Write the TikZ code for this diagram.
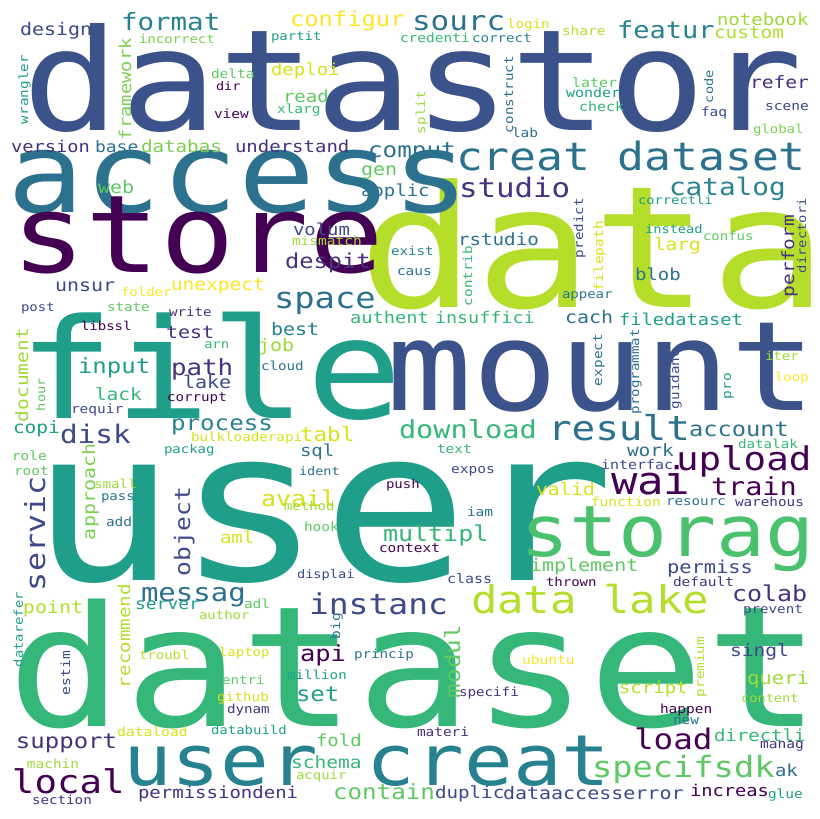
\documentclass[tikz,border=0pt]{standalone}
\usepackage{xcolor}
\usepackage{fontspec}
\setmainfont{DejaVu Sans Mono}[FakeStretch=1.15]
\usepackage{tikz}
\definecolor{wcDP}{HTML}{440154}
\definecolor{wcP}{HTML}{46327E}
\definecolor{wcI}{HTML}{3E4989}
\definecolor{wcSB}{HTML}{3B528B}
\definecolor{wcB}{HTML}{2C728E}
\definecolor{wcT}{HTML}{26828E}
\definecolor{wcTG}{HTML}{1F9E89}
\definecolor{wcG}{HTML}{35B779}
\definecolor{wcGG}{HTML}{4AC16D}
\definecolor{wcLG}{HTML}{5EC962}
\definecolor{wcLGb}{HTML}{7AD151}
\definecolor{wcLGa}{HTML}{A0DA39}
\definecolor{wcYG}{HTML}{B5DE2B}
\definecolor{wcYY}{HTML}{D8E219}
\definecolor{wcY}{HTML}{FDE725}
\newcommand{\wsz}[1]{\fontsize{\fpeval{#1/1.15}}{\fpeval{#1/1.15}}\selectfont}
\tikzset{
  word/.style={inner sep=0pt, outer sep=0pt, anchor=base west},
  vword/.style={word, rotate=90}
}
\begin{document}
\begin{tikzpicture}[x=1pt, y=-1pt]
    \fill[white] (0,0) rectangle (819,819);
    \useasboundingbox (0,0) rectangle (819,819);
    % large words
    \node[word, font=\wsz{162}, text=wcSB] (datastor) at (23,130) {datastor};
    \node[word, font=\wsz{195}, text=wcYG] (data) at (358,307) {data};
    \node[word, font=\wsz{128}, text=wcB] (access) at (7,212) {access};
    \node[word, font=\wsz{124}, text=wcDP] (store) at (11,272) {store};
    \node[word, font=\wsz{160}, text=wcTG] (file) at (18,418) {file};
    \node[word, font=\wsz{143}, text=wcSB] (mount) at (386,410) {mount};
    \node[word, font=\wsz{243}, text=wcTG] (user) at (30,580) {user};
    \node[word, font=\wsz{193}, text=wcG] (dataset) at (8,726) {dataset};
    \node[word, font=\wsz{81.5}, text=wcGG] (storag) at (520,556) {storag};
    \node[word, font=\wsz{81}, text=wcT] (usercreat) at (123,785) {user creat};
    \node[word, font=\wsz{44.7}, text=wcB] (creatdataset) at (456,170) {creat dataset};
    \node[word, font=\wsz{44}, text=wcYG] (datalake) at (471,613) {data lake};
    % medium words
    \node[word, font=\wsz{33}, text=wcI] (instanc) at (309,614) {instanc};
    \node[word, font=\wsz{33.7}, text=wcLG] (specifsdk) at (592,777) {specifsdk};
    \node[word, font=\wsz{39.3}, text=wcB] (result) at (548,440) {result};
    \node[word, font=\wsz{37.5}, text=wcDP] (upload) at (676,470) {upload};
    \node[word, font=\wsz{37.4}, text=wcDP] (local) at (12,793) {local};
    \node[word, font=\wsz{32.6}, text=wcDP] (load) at (634,749) {load};
    \node[word, font=\wsz{44}, text=wcDP] (wai) at (611,494) {wai};
    \node[word, font=\wsz{33.8}, text=wcB] (space) at (274,308) {space};
    \node[word, font=\wsz{31}, text=wcB] (sourc) at (412,30) {sourc};
    \node[word, font=\wsz{30.8}, text=wcP] (studio) at (459,197) {studio};
    \node[word, font=\wsz{29.4}, text=wcI] (disk) at (60,443) {disk};
    \node[word, font=\wsz{28.5}, text=wcDP] (train) at (711,495) {train};
    \node[word, font=\wsz{28.6}, text=wcG] (download) at (399,438) {download};
    \node[word, font=\wsz{27.7}, text=wcT] (catalog) at (669,195) {catalog};
    \node[word, font=\wsz{27.5}, text=wcT] (format) at (121,30) {format};
    \node[word, font=\wsz{27}, text=wcT] (featur) at (617,38) {featur};
    \node[word, font=\wsz{29}, text=wcB] (messag) at (141,601) {messag};
    \node[word, font=\wsz{25.8}, text=wcP] (path) at (171,375) {path};
    \node[word, font=\wsz{25.5}, text=wcDP] (api) at (300,661) {api};
    \node[word, font=\wsz{25}, text=wcG] (multipl) at (383,541) {multipl};
    \node[word, font=\wsz{25}, text=wcYY] (avail) at (261,506) {avail};
    \node[word, font=\wsz{25}, text=wcP] (colab) at (732,601) {colab};
    \node[word, font=\wsz{24}, text=wcTG] (input) at (78,373) {input};
    \node[word, font=\wsz{24.3}, text=wcB] (comput) at (368,157) {comput};
    \node[word, font=\wsz{24.2}, text=wcT] (process) at (171,430) {process};
    \node[word, font=\wsz{24.2}, text=wcLG] (contain) at (333,799) {contain};
    \node[word, font=\wsz{24}, text=wcTG] (set) at (296,701) {set};
    \node[word, font=\wsz{24}, text=wcP] (support) at (16,748) {support};
    \node[word, font=\wsz{23.7}, text=wcB] (account) at (689,436) {account};
    \node[word, font=\wsz{23.8}, text=wcY] (configur) at (290,27) {configur};
    \node[word, font=\wsz{23.7}, text=wcP] (despit) at (285,268) {despit};
    \node[word, font=\wsz{22.6}, text=wcYY] (tabl) at (300,441) {tabl};
    % words around 20
    \node[word, font=\wsz{20}, text=wcI] (design) at (20,35) {design};
    \node[word, font=\wsz{20}, text=wcI] (unsur) at (55,291) {unsur};
    \node[word, font=\wsz{20}, text=wcP] (test) at (166,338) {test};
    \node[word, font=\wsz{20}, text=wcI] (lake) at (183,388) {lake};
    \node[word, font=\wsz{20}, text=wcYG] (point) at (23,613) {point};
    \node[word, font=\wsz{20}, text=wcLG] (implement) at (530,571) {implement};
    \node[word, font=\wsz{20.4}, text=wcI] (permiss) at (667,573) {permiss};
    \node[word, font=\wsz{20.6}, text=wcLGa] (queri) at (747,684) {queri};
    \node[word, font=\wsz{20}, text=wcI] (dataaccesserror) at (503,799) {dataaccesserror};
    \node[word, font=\wsz{20}, text=wcT] (best) at (271,335) {best};
    \node[word, font=\wsz{20}, text=wcLGa] (job) at (258,351) {job};
    \node[word, font=\wsz{20}, text=wcB] (cach) at (565,323) {cach};
    \node[word, font=\wsz{20}, text=wcLG] (gen) at (361,175) {gen};
    \node[word, font=\wsz{19.6}, text=wcP] (refer) at (750,88) {refer};
    \node[word, font=\wsz{19.6}, text=wcYY] (valid) at (536,495) {valid};
    \node[word, font=\wsz{19.6}, text=wcG] (schema) at (291,768) {schema};
    \node[word, font=\wsz{19.6}, text=wcI] (singl) at (730,656) {singl};
    \node[word, font=\wsz{19}, text=wcB] (applic) at (361,196) {applic};
    \node[word, font=\wsz{19.4}, text=wcYG] (custom) at (714,38) {custom};
    \node[word, font=\wsz{19}, text=wcLGa] (notebook) at (717,25) {notebook};
    \node[word, font=\wsz{19.5}, text=wcYY] (larg) at (654,250) {larg};
    \node[word, font=\wsz{19.5}, text=wcY] (unexpect) at (171,290) {unexpect};
    \node[word, font=\wsz{19.5}, text=wcG] (lack) at (95,400) {lack};
    \node[word, font=\wsz{19.5}, text=wcTG] (copi) at (13,433) {copi};
    \node[word, font=\wsz{19.5}, text=wcB] (work) at (627,456) {work};
    \node[word, font=\wsz{18.7}, text=wcP] (version) at (11,152) {version};
    \node[word, font=\wsz{18}, text=wcB] (base) at (95,152) {base};
    \node[word, font=\wsz{19.2}, text=wcLGb] (databas) at (141,152) {databas};
    \node[word, font=\wsz{20}, text=wcLG] (web) at (98,193) {web};
    \node[word, font=\wsz{19}, text=wcP] (understand) at (235,152) {understand};
    \node[word, font=\wsz{19}, text=wcYY] (deploi) at (271,75) {deploi};
    \node[word, font=\wsz{19}, text=wcLG] (read) at (283,102) {read};
    \node[word, font=\wsz{18.9}, text=wcI] (volum) at (293,235) {volum};
    \node[word, font=\wsz{19}, text=wcB] (blob) at (635,280) {blob};
    \node[word, font=\wsz{19.2}, text=wcB] (rstudio) at (458,245) {rstudio};
    \node[word, font=\wsz{18}, text=wcTG] (server) at (135,609) {server};
    \node[word, font=\wsz{19}, text=wcB] (sql) at (300,456) {sql};
    \node[word, font=\wsz{19}, text=wcYY] (aml) at (220,543) {aml};
    \node[word, font=\wsz{19}, text=wcLG] (fold) at (316,746) {fold};
    \node[word, font=\wsz{19}, text=wcG] (directli) at (714,741) {directli};
    \node[word, font=\wsz{19}, text=wcYG] (script) at (619,693) {script};
    \node[word, font=\wsz{19.2}, text=wcI] (duplic) at (435,798) {duplic};
    \node[word, font=\wsz{19}, text=wcP] (permissiondeni) at (138,798) {permissiondeni};
    \node[word, font=\wsz{18.7}, text=wcDP] (increas) at (690,796) {increas};
    \node[word, font=\wsz{19}, text=wcB] (ak) at (775,776) {ak};
    \node[word, font=\wsz{18.7}, text=wcG] (authent) at (350,323) {authent};
    \node[word, font=\wsz{18.4}, text=wcG] (insuffici) at (435,323) {insuffici};
    \node[word, font=\wsz{18.7}, text=wcTG] (filedataset) at (619,325) {filedataset};
    % small words
    \node[word, font=\wsz{14}, text=wcLGb] (incorrect) at (139,43) {incorrect};
    \node[word, font=\wsz{14}, text=wcTG] (partit) at (271,40) {partit};
    \node[word, font=\wsz{14.5}, text=wcG] (credenti) at (400,42) {credenti};
    \node[word, font=\wsz{14.2}, text=wcT] (correct) at (472,42) {correct};
    \node[word, font=\wsz{14.2}, text=wcYY] (login) at (507,28) {login};
    \node[word, font=\wsz{14.5}, text=wcYG] (share) at (562,35) {share};
    \node[word, font=\wsz{14.5}, text=wcLG] (delta) at (211,78) {delta};
    \node[word, font=\wsz{13.5}, text=wcDP] (dir) at (216,90) {dir};
    \node[word, font=\wsz{14.5}, text=wcDP] (view) at (214,118) {view};
    \node[word, font=\wsz{14.5}, text=wcG] (xlarg) at (277,113) {xlarg};
    \node[word, font=\wsz{14.5}, text=wcLGa] (mismatch) at (292,245) {mismatch};
    \node[word, font=\wsz{14.2}, text=wcT] (exist) at (391,255) {exist};
    \node[word, font=\wsz{14.5}, text=wcB] (caus) at (397,275) {caus};
    \node[word, font=\wsz{14.5}, text=wcB] (lab) at (512,137) {lab};
    \node[word, font=\wsz{15}, text=wcLG] (later) at (572,87) {later};
    \node[word, font=\wsz{15}, text=wcTG] (wonder) at (566,97) {wonder};
    \node[word, font=\wsz{15}, text=wcG] (check) at (579,111) {check};
    \node[word, font=\wsz{14.5}, text=wcI] (faq) at (701,116) {faq};
    \node[word, font=\wsz{14.6}, text=wcI] (scene) at (765,110) {scene};
    \node[word, font=\wsz{14}, text=wcLGb] (global) at (753,133) {global};
    \node[word, font=\wsz{13.8}, text=wcTG] (correctli) at (638,204) {correctli};
    \node[word, font=\wsz{13.7}, text=wcTG] (instead) at (645,233) {instead};
    \node[word, font=\wsz{14}, text=wcLG] (confus) at (703,240) {confus};
    \node[word, font=\wsz{14}, text=wcY] (folder) at (121,296) {folder};
    \node[word, font=\wsz{14}, text=wcI] (post) at (21,311) {post};
    \node[word, font=\wsz{14.2}, text=wcLG] (state) at (107,311) {state};
    \node[word, font=\wsz{14.2}, text=wcP] (write) at (169,316) {write};
    \node[word, font=\wsz{14}, text=wcDP] (libssl) at (81,330) {libssl};
    \node[word, font=\wsz{14.5}, text=wcI] (requir) at (71,413) {requir};
    \node[word, font=\wsz{14.2}, text=wcDP] (corrupt) at (167,401) {corrupt};
    \node[word, font=\wsz{14.2}, text=wcYY] (bulkloaderapi) at (191,441) {bulkloaderapi};
    \node[word, font=\wsz{14}, text=wcTG] (packag) at (164,453) {packag};
    \node[word, font=\wsz{14.5}, text=wcLG] (role) at (12,460) {role};
    \node[word, font=\wsz{14.5}, text=wcLG] (root) at (14,475) {root};
    \node[word, font=\wsz{14.2}, text=wcLGa] (small) at (94,488) {small};
    \node[word, font=\wsz{14}, text=wcB] (pass) at (101,500) {pass};
    \node[word, font=\wsz{14.5}, text=wcB] (add) at (106,526) {add};
    \node[word, font=\wsz{14}, text=wcG] (arn) at (204,348) {arn};
    \node[word, font=\wsz{14.2}, text=wcB] (cloud) at (261,370) {cloud};
    \node[word, font=\wsz{13.5}, text=wcB] (ident) at (299,475) {ident};
    \node[word, font=\wsz{14}, text=wcLGa] (method) at (284,510) {method};
    \node[word, font=\wsz{14.5}, text=wcLG] (hook) at (304,531) {hook};
    \node[word, font=\wsz{14}, text=wcDP] (push) at (386,488) {push};
    \node[word, font=\wsz{14.5}, text=wcDP] (context) at (379,552) {context};
    \node[word, font=\wsz{13.7}, text=wcI] (displai) at (297,578) {displai};
    \node[word, font=\wsz{14.5}, text=wcLG] (adl) at (244,608) {adl};
    \node[word, font=\wsz{14}, text=wcLGa] (author) at (199,619) {author};
    \node[word, font=\wsz{14.2}, text=wcB] (princip) at (354,658) {princip};
    \node[word, font=\wsz{14}, text=wcYY] (laptop) at (219,656) {laptop};
    \node[word, font=\wsz{14.2}, text=wcTG] (million) at (287,679) {million};
    \node[word, font=\wsz{14.2}, text=wcLG] (entri) at (222,684) {entri};
    \node[word, font=\wsz{14.4}, text=wcYY] (github) at (217,701) {github};
    \node[word, font=\wsz{14.2}, text=wcP] (dynam) at (227,713) {dynam};
    \node[word, font=\wsz{14}, text=wcTG] (databuild) at (211,734) {databuild};
    \node[word, font=\wsz{14}, text=wcLGa] (acquir) at (296,779) {acquir};
    \node[word, font=\wsz{14.5}, text=wcTG] (glue) at (768,798) {glue};
    \node[word, font=\wsz{14.6}, text=wcP] (manag) at (760,748) {manag};
    \node[word, font=\wsz{14.5}, text=wcB] (new) at (673,724) {new};
    \node[word, font=\wsz{14.5}, text=wcDP] (happen) at (660,713) {happen};
    \node[word, font=\wsz{13.7}, text=wcLGa] (content) at (741,702) {content};
    \node[word, font=\wsz{14.2}, text=wcI] (prevent) at (743,613) {prevent};
    \node[word, font=\wsz{14.5}, text=wcP] (default) at (673,586) {default};
    \node[word, font=\wsz{15}, text=wcI] (class) at (447,583) {class};
    \node[word, font=\wsz{14}, text=wcDP] (thrown) at (546,586) {thrown};
    \node[word, font=\wsz{14.6}, text=wcY] (ubuntu) at (522,664) {ubuntu};
    \node[word, font=\wsz{14.2}, text=wcP] (specifi) at (459,696) {specifi};
    \node[word, font=\wsz{14.4}, text=wcP] (materi) at (417,736) {materi};
    \node[word, font=\wsz{14}, text=wcYG] (troubl) at (139,659) {troubl};
    \node[word, font=\wsz{14.7}, text=wcYY] (dataload) at (117,736) {dataload};
    \node[word, font=\wsz{14.4}, text=wcLGa] (machin) at (27,768) {machin};
    \node[word, font=\wsz{14.2}, text=wcP] (section) at (32,804) {section};
    \node[word, font=\wsz{14}, text=wcB] (appear) at (562,298) {appear};
    \node[word, font=\wsz{14.5}, text=wcG] (text) at (437,453) {text};
    \node[word, font=\wsz{14.6}, text=wcI] (expos) at (451,473) {expos};
    \node[word, font=\wsz{15}, text=wcI] (interfac) at (601,469) {interfac};
    \node[word, font=\wsz{14.5}, text=wcYY] (function) at (591,506) {function};
    \node[word, font=\wsz{14.5}, text=wcB] (iam) at (467,516) {iam};
    \node[word, font=\wsz{14}, text=wcLGa] (iter) at (765,360) {iter};
    \node[word, font=\wsz{14}, text=wcY] (loop) at (775,381) {loop};
    \node[word, font=\wsz{14.2}, text=wcG] (datalak) at (738,448) {datalak};
    \node[word, font=\wsz{14.2}, text=wcB] (resourc) at (666,505) {resourc};
    \node[word, font=\wsz{14.3}, text=wcP] (warehous) at (735,506) {warehous};
    % upright words
    \node[vword, font=\wsz{18.8}, text=wcLGb] (framework) at (131,140) {framework};
    \node[vword, font=\wsz{14.3}, text=wcTG] (wrangler) at (28,124) {wrangler};
    \node[vword, font=\wsz{14.2}, text=wcB] (construct) at (513,133) {construct};
    \node[vword, font=\wsz{14.2}, text=wcLGa] (split) at (425,134) {split};
    \node[vword, font=\wsz{13.6}, text=wcB] (code) at (713,103) {code};
    \node[vword, font=\wsz{14.2}, text=wcG] (contrib) at (472,306) {contrib};
    \node[vword, font=\wsz{14.2}, text=wcI] (predict) at (583,258) {predict};
    \node[vword, font=\wsz{14.5}, text=wcYY] (filepath) at (603,291) {filepath};
    \node[vword, font=\wsz{19.4}, text=wcP] (perform) at (794,297) {perform};
    \node[vword, font=\wsz{13.8}, text=wcI] (directori) at (806,273) {directori};
    \node[vword, font=\wsz{19.5}, text=wcLGa] (document) at (28,422) {document};
    \node[vword, font=\wsz{13.6}, text=wcLG] (hour) at (45,411) {hour};
    \node[vword, font=\wsz{31.7}, text=wcI] (servic) at (45,591) {servic};
    \node[vword, font=\wsz{20}, text=wcLGb] (approach) at (95,540) {approach};
    \node[vword, font=\wsz{24.6}, text=wcI] (object) at (190,576) {object};
    \node[vword, font=\wsz{14.4}, text=wcB] (expect) at (602,386) {expect};
    \node[vword, font=\wsz{14.1}, text=wcB] (programmat) at (639,414) {programmat};
    \node[vword, font=\wsz{14.2}, text=wcI] (guidanc) at (679,409) {guidanc};
    \node[vword, font=\wsz{14.5}, text=wcTG] (pro) at (731,399) {pro};
    \node[vword, font=\wsz{19.2}, text=wcYG] (recommend) at (130,688) {recommend};
    \node[vword, font=\wsz{13.8}, text=wcTG] (datarefer) at (23,667) {datarefer};
    \node[vword, font=\wsz{14.6}, text=wcI] (estim) at (70,695) {estim};
    \node[vword, font=\wsz{14.5}, text=wcB] (big) at (340,639) {big};
    \node[vword, font=\wsz{24.2}, text=wcLG] (modul) at (460,698) {modul};
    \node[vword, font=\wsz{14.2}, text=wcYG] (premium) at (704,697) {premium};
\end{tikzpicture}
\end{document}
